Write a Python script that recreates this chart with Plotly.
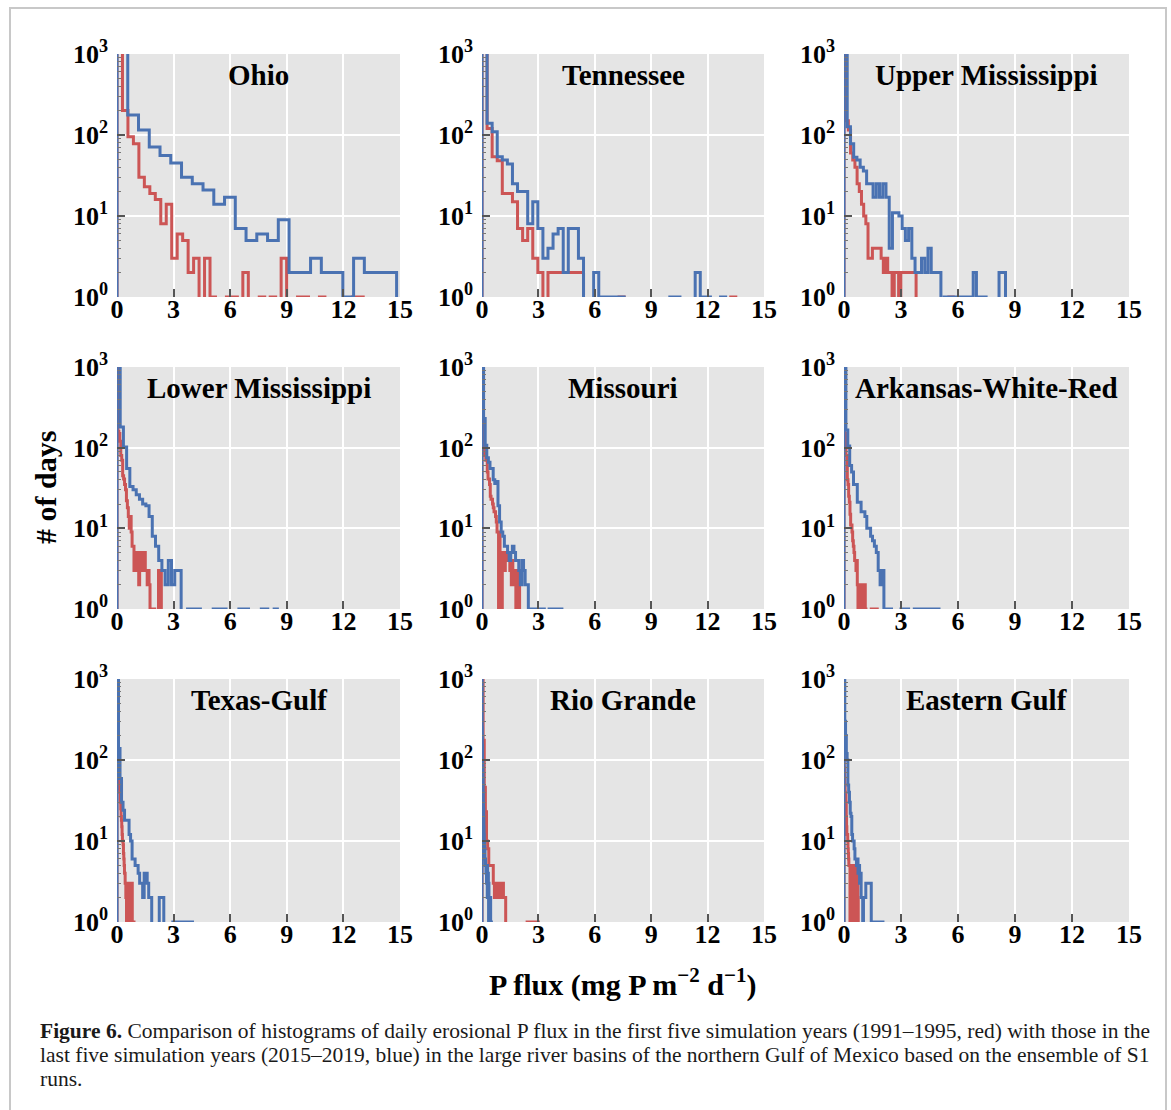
import plotly.graph_objects as go

# ---------------- data ----------------
basins = ["Ohio", "Tennessee", "Upper Mississippi",
          "Lower Mississippi", "Missouri", "Arkansas-White-Red",
          "Texas-Gulf", "Rio Grande", "Eastern Gulf"]

# histogram bin widths (mg P m-2 d-1), one per basin
red_bin_width = [0.29, 0.27, 0.115, 0.05, 0.04, 0.035, 0.018, 0.06, 0.015]
blue_bin_width = [0.57, 0.27, 0.17, 0.17, 0.085, 0.10, 0.08, 0.01, 0.041]

# counts (# of days) per bin, 1991-1995 (red)
ohio_red = [3000, 200, 95, 78, 30, 23, 19, 16, 8, 14, 3, 6, 5, 2, 3, 0, 3, 1, 0, 0, 1, 1, 0, 2, 0,
            0, 1, 0, 1, 0, 3, 0, 0, 1, 1, 0, 0, 1, 0, 0, 0, 0, 0, 1, 1, 0, 0, 0, 0, 0]
tennessee_red = [1500, 120, 54, 48, 19, 19, 15, 7, 5, 7, 3, 2, 0, 2, 2, 2, 2, 2, 2, 2, 0, 0, 0, 0, 0,
                 0, 0, 1, 0, 0, 0, 0, 0, 0, 0, 0, 0, 0, 0, 0, 0, 0, 0, 0, 0, 0, 0, 0, 0, 1]
upper_miss_red = [1500, 150, 115, 60, 49, 40, 25, 20, 14, 10, 8, 3, 3, 4, 4, 4, 4, 3, 2, 3, 2, 2, 0, 2, 2,
                  0, 2, 2, 2, 2, 2, 2, 2, 0, 0, 0, 0, 0, 0, 0, 0, 0, 0, 0, 0, 0, 0, 0, 1, 1]
lower_miss_red = [1500, 160, 150, 120, 80, 70, 45, 41, 35, 30, 22, 18, 14, 10, 14, 9, 6, 6, 3, 5, 3, 5, 5, 2, 5,
                  4, 5, 3, 5, 5, 3, 3, 2, 3, 2, 0, 1, 0, 0, 1, 0, 0, 0, 0, 3, 2, 3, 0, 0, 0]
missouri_red = [1500, 200, 110, 90, 80, 70, 70, 50, 41, 41, 35, 25, 23, 23, 20, 18, 16, 16, 14, 12, 9, 9, 0, 9, 0,
                5, 0, 5, 4, 5, 3, 5, 5, 4, 5, 5, 4, 3, 4, 2, 4, 3, 3, 2, 3, 1, 3, 2, 3, 2]
awr_red = [1500, 150, 150, 80, 80, 40, 35, 25, 21, 15, 11, 11, 9, 7, 6, 5, 4, 4, 3, 4, 2, 0, 2, 2, 0,
           2, 1, 2, 0, 2, 0, 2, 1, 0, 0, 0, 0, 0, 0, 0, 0, 1, 1, 1, 1, 1, 1, 1, 0, 1]
texas_red = [1500, 300, 200, 120, 80, 60, 50, 50, 45, 40, 30, 25, 20, 18, 15, 12, 10, 10, 9, 7, 6, 5, 4, 4, 3,
             3, 2, 3, 0, 3, 2, 0, 3, 0, 2, 0, 3, 0, 0, 2, 0, 0, 1, 0, 3, 0, 0, 1, 0, 1]
rio_red = [1500, 175, 46, 23, 10, 8, 5, 5, 5, 5, 3, 2, 3, 3, 2, 3, 2, 2, 3, 2, 2, 0, 0, 0, 0,
           0, 0, 0, 0, 0, 0, 0, 0, 0, 0, 0, 0, 0, 0, 0, 1, 1, 0, 0, 1, 1, 0, 1, 0, 1]
eastern_red = [1500, 80, 60, 50, 40, 37, 37, 30, 20, 15, 12, 12, 12, 10, 8, 7, 6, 5, 5, 5, 5, 0, 4, 0, 5,
               0, 4, 0, 5, 0, 4, 0, 5, 0, 4, 0, 5, 0, 4, 0, 5, 0, 4, 0, 5, 0, 4, 0, 3, 2]

# counts (# of days) per bin, 2015-2019 (blue)
ohio_blue = [3000, 176, 115, 71, 56, 45, 30, 25, 21, 14, 17, 7, 5, 6, 5, 9, 2, 2, 3, 2, 2, 1, 3, 2, 2,
             2, 0, 1, 0, 1, 0, 0, 1, 0, 0, 0, 0, 0, 0, 0, 0, 0, 0, 0, 0, 0, 0, 0, 0, 1]
tennessee_blue = [1500, 140, 110, 54, 49, 44, 25, 20, 20, 8, 15, 7, 3, 4, 6, 7, 2, 7, 7, 3, 0, 0, 2, 1, 1,
                  1, 1, 1, 0, 0, 0, 0, 0, 0, 0, 0, 0, 1, 1, 0, 0, 0, 2, 1, 1, 0, 0, 1, 0, 0]
upper_miss_blue = [1500, 126, 78, 53, 49, 40, 36, 25, 25, 17, 25, 17, 25, 17, 4, 11, 11, 10, 7, 5, 7, 3, 2, 2, 3,
                   2, 4, 2, 2, 2, 0, 1, 1, 1, 1, 1, 1, 1, 1, 1, 2, 1, 1, 1, 0, 0, 0, 0, 2, 2]
lower_miss_blue = [1500, 181, 102, 55, 33, 30, 26, 23, 20, 19, 14, 8, 6, 4, 3, 2, 4, 2, 3, 3, 0, 0, 1, 1, 1,
                   1, 0, 0, 0, 0, 1, 1, 1, 1, 0, 0, 0, 0, 1, 1, 1, 0, 0, 0, 0, 1, 1, 0, 0, 1]
missouri_blue = [1500, 230, 107, 75, 66, 55, 55, 40, 36, 38, 19, 12, 9, 8, 6, 6, 5, 4, 5, 6, 5, 4, 4, 3, 2,
                 4, 3, 2, 2, 0, 1, 1, 1, 1, 0, 0, 1, 1, 1, 0, 0, 0, 1, 1, 1, 1, 1, 1, 1, 1]
awr_blue = [1500, 165, 105, 60, 50, 35, 35, 21, 21, 16, 16, 14, 10, 10, 8, 7, 6, 5, 3, 2, 3, 0, 1, 1, 1,
            0, 0, 0, 0, 0, 1, 1, 1, 1, 0, 0, 0, 1, 1, 0, 1, 1, 1, 0, 1, 1, 1, 0, 1, 1]
texas_blue = [1500, 139, 59, 30, 24, 18, 18, 18, 12, 10, 6, 6, 5, 5, 4, 3, 3, 2, 4, 4, 3, 2, 2, 0, 0,
              0, 0, 0, 2, 2, 2, 0, 0, 0, 0, 0, 0, 1, 1, 0, 1, 1, 1, 0, 1, 1, 1, 1, 1, 1]
rio_blue = [1500, 250, 150, 100, 80, 60, 40, 30, 25, 20, 15, 12, 10, 10, 8, 8, 6, 5, 6, 5, 5, 4, 5, 4, 3,
            5, 4, 3, 2, 5, 4, 3, 2, 4, 2, 0, 3, 2, 0, 2, 1, 2, 0, 1, 0, 2, 0, 1, 0, 1]
eastern_blue = [1500, 300, 200, 120, 100, 49, 40, 30, 22, 20, 12, 10, 10, 8, 6, 6, 5, 6, 4, 5, 3, 4, 2, 2, 0,
                2, 2, 2, 3, 3, 3, 3, 3, 3, 3, 0, 0, 1, 1, 1, 1, 1, 1, 1, 1, 1, 1, 1, 1, 1]

red_counts = [ohio_red, tennessee_red, upper_miss_red, lower_miss_red, missouri_red,
              awr_red, texas_red, rio_red, eastern_red]
blue_counts = [ohio_blue, tennessee_blue, upper_miss_blue, lower_miss_blue, missouri_blue,
               awr_blue, texas_blue, rio_blue, eastern_blue]

x_tick_vals = [0, 3, 6, 9, 12, 15]
x_tick_text = ["0", "3", "6", "9", "12", "15"]
y_tick_vals = [1, 10, 100, 1000]
y_tick_text = ["10<sup>0</sup>", "10<sup>1</sup>", "10<sup>2</sup>", "10<sup>3</sup>"]
y_minor_vals = [m * d for d in (1, 10, 100) for m in range(2, 10)]

x_title = "P flux (mg P m<sup>\u22122</sup> d<sup>\u22121</sup>)"
y_title = "# of days"
caption_lines = [
    "<b>Figure 6.</b> Comparison of histograms of daily erosional P flux in the first five simulation years (1991\u20131995, red) with those in the",
    "last five simulation years (2015\u20132019, blue) in the large river basins of the northern Gulf of Mexico based on the ensemble of S1",
    "runs.",
]

# ---------------- styling / layout ----------------
W, H = 1171, 1110
RED = "#CC5555"
BLUE = "#4A72B2"
SERIF = "Liberation Serif"
col_px = [(117, 400), (482, 764), (844, 1129)]
row_px = [(54, 297), (367, 609), (679, 922)]
FLOOR = 0.1  # display floor for empty bins on the log axis (drawn below the axis)


def step_xy(counts, width):
    n = len(counts)
    edges = [k * width for k in range(n + 1)]
    xs = [edges[0]] + edges
    ys = [FLOOR] + [c if c > 0 else FLOOR for c in counts] + [FLOOR]
    return xs, ys


fig = go.Figure()
annotations = []
for i, name in enumerate(basins):
    r, c = divmod(i, 3)
    x0, x1 = col_px[c]
    y0, y1 = row_px[r]
    ax = "" if i == 0 else str(i + 1)
    for counts, width, color in ((red_counts[i], red_bin_width[i], RED),
                                 (blue_counts[i], blue_bin_width[i], BLUE)):
        xs, ys = step_xy(counts, width)
        fig.add_trace(go.Scatter(x=xs, y=ys, mode="lines", line=dict(color=color, width=3, shape="hv"),
                                 xaxis="x" + ax, yaxis="y" + ax, showlegend=False, hoverinfo="skip"))
    fig.layout["xaxis" + ax] = dict(
        domain=[x0 / W, x1 / W], anchor="y" + ax, range=[0, 15], automargin=False,
        tickmode="array", tickvals=x_tick_vals, ticktext=["<b>%s</b>" % t for t in x_tick_text],
        ticks="inside", ticklen=8, tickwidth=1.5, tickcolor="#555555", ticklabelstandoff=-6,
        showgrid=True, gridcolor="white", gridwidth=1.5, zeroline=False, showline=False,
        tickfont=dict(family=SERIF, size=26, color="black"), fixedrange=True)
    fig.layout["yaxis" + ax] = dict(
        domain=[1 - y1 / H, 1 - y0 / H], anchor="x" + ax, type="log", range=[0, 3], automargin=False,
        tickmode="array", tickvals=y_tick_vals, ticktext=["<b>%s</b>" % t for t in y_tick_text],
        ticks="inside", ticklen=8, tickwidth=1.5, tickcolor="#555555", ticklabelstandoff=8,
        minor=dict(tickmode="array", tickvals=y_minor_vals, ticks="inside", ticklen=4,
                   tickwidth=1, tickcolor="#777777", showgrid=False),
        showgrid=True, gridcolor="white", gridwidth=1.5, zeroline=False, showline=False,
        tickfont=dict(family=SERIF, size=26, color="black"), fixedrange=True)
    annotations.append(dict(text="<b>%s</b>" % name, x=(x0 + x1) / 2 / W, y=1 - (y0 + 21) / H,
                            xref="paper", yref="paper", xanchor="center", yanchor="middle",
                            showarrow=False, font=dict(family=SERIF, size=29, color="black")))

annotations.append(dict(text="<b>%s</b>" % x_title, x=622 / W, y=1 - 983 / H, xref="paper", yref="paper",
                        xanchor="center", yanchor="middle", showarrow=False,
                        font=dict(family=SERIF, size=30, color="black")))
annotations.append(dict(text="<b>%s</b>" % y_title, x=46 / W, y=1 - 488 / H, xref="paper", yref="paper",
                        xanchor="center", yanchor="middle", textangle=-90, showarrow=False,
                        font=dict(family=SERIF, size=30, color="black")))
for k, line in enumerate(caption_lines):
    annotations.append(dict(text=line, x=38 / W, y=1 - (1031 + 24 * k) / H, xref="paper", yref="paper",
                            xanchor="left", yanchor="middle", showarrow=False,
                            font=dict(family=SERIF, size=21.5, color="#1a1a1a")))

fig.update_layout(
    width=W, height=H, autosize=False, template="none",
    margin=dict(l=0, r=0, t=0, b=0, pad=0, autoexpand=False),
    paper_bgcolor="white", plot_bgcolor="#E5E5E5",
    annotations=annotations,
    shapes=[dict(type="rect", xref="paper", yref="paper", x0=10 / W, x1=1166 / W, y0=-0.02, y1=1 - 8 / H,
                 line=dict(color="#C8C8C8", width=2), fillcolor="rgba(0,0,0,0)", layer="below")],
)

fig.write_html("out.html")
